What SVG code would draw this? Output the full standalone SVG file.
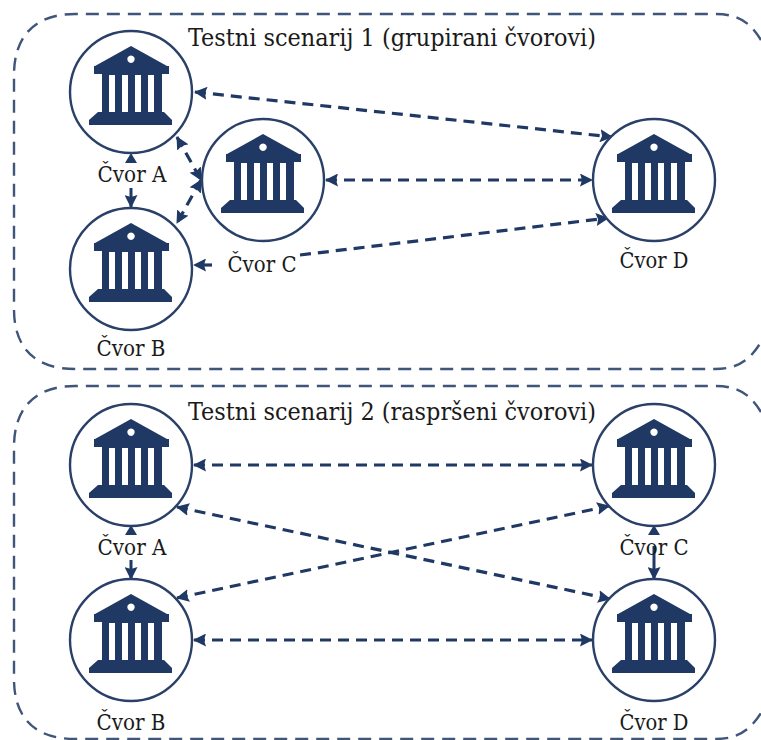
<svg xmlns="http://www.w3.org/2000/svg" xmlns:xlink="http://www.w3.org/1999/xlink" width="761" height="740" viewBox="0 0 761 740">
<style>
text{font-family:"DejaVu Serif Condensed","DejaVu Serif",serif;fill:#1a1a1a;text-anchor:middle}
.t{font-size:24px}.l{font-size:22px}
.f{fill:none;stroke:#3f5579;stroke-width:2.4;stroke-dasharray:13 8}
.c{fill:none;stroke:#1f3864;stroke-width:3.200;stroke-dasharray:11 7}
.s{fill:none;stroke:#1f3864;stroke-width:3}
.r{fill:#fff;stroke:#2a4068;stroke-width:2.400}
.i{fill:#1f3864}
</style>
<defs>
<marker id="a" viewBox="0 0 13 13" refX="12" refY="6.500" markerWidth="13" markerHeight="13" markerUnits="userSpaceOnUse" orient="auto-start-reverse"><path d="M0 0L13 6.500L0 13L2 6.500Z" fill="#1f3864"/></marker>
<g id="n">
<circle class="r" r="61"/>
<path class="i" fill-rule="evenodd" d="M0-46L36-26H38V-18H31V20H33L41 28V33H-42V28L-33 20H-29V-18H-37V-26H-36ZM0-36.500a3.700 3.700 0 1 0 .01 0ZM-22-17V20H-16V-17ZM-9-17V20H-3V-17ZM4-17V20H10V-17ZM17-17V20H23V-17Z"/>
</g>
</defs>
<g id="frames">
<path class="f" d="M761 40C750 22 738 14 715 14H75C35 14 14 36 14 75V309C14 348 35 369 75 369H715C738 369 750 360 761 342"/>
<path class="f" d="M761 412C750 394 738 386 715 386H75C35 386 14 408 14 447V679C14 718 35 739 75 739H715C738 739 750 730 761 713"/>
</g>
<g id="connectors">
<path class="c" marker-start="url(#a)" marker-end="url(#a)" d="M195 92L612 137"/>
<path class="c" marker-start="url(#a)" marker-end="url(#a)" d="M326 180L592 180"/>
<path class="c" d="M300 255L608 218" marker-end="url(#a)"/>
<path class="c" d="M212 265L194 265" marker-end="url(#a)"/>
<path class="c" marker-start="url(#a)" marker-end="url(#a)" d="M177 137L201 180"/>
<path class="c" marker-start="url(#a)" marker-end="url(#a)" d="M201 180L177 223"/>
<path class="s" d="M131 188V207" marker-end="url(#a)"/><path class="i" d="M125 163L131 153L137 163Z"/>
<path class="c" marker-start="url(#a)" marker-end="url(#a)" d="M194 465H592"/>
<path class="c" marker-start="url(#a)" marker-end="url(#a)" d="M194 640H592"/>
<path class="c" marker-start="url(#a)" marker-end="url(#a)" d="M177 507L610 599"/>
<path class="c" marker-start="url(#a)" marker-end="url(#a)" d="M177 598L609 506"/>
<path class="s" d="M131 560V579" marker-end="url(#a)"/><path class="i" d="M125 535L131 525L137 535Z"/>
<path class="s" d="M654 546V579" marker-end="url(#a)"/><path class="i" d="M648 535L654 525L660 535Z"/>
</g>
<g id="node-a1"><use href="#n" xlink:href="#n" x="131" y="92"/></g>
<g id="node-b1"><use href="#n" xlink:href="#n" x="131" y="269"/></g>
<g id="node-c1"><use href="#n" xlink:href="#n" x="263" y="180"/></g>
<g id="node-d1"><use href="#n" xlink:href="#n" x="654" y="180"/></g>
<g id="node-a2"><use href="#n" xlink:href="#n" x="131" y="465"/></g>
<g id="node-b2"><use href="#n" xlink:href="#n" x="131" y="640"/></g>
<g id="node-c2"><use href="#n" xlink:href="#n" x="654" y="465"/></g>
<g id="node-d2"><use href="#n" xlink:href="#n" x="654" y="640"/></g>
<g id="labels">
<text class="t" x="392" y="46" textLength="408" lengthAdjust="spacingAndGlyphs">Testni scenarij 1 (grupirani čvorovi)</text>
<text class="t" x="392" y="420" textLength="408" lengthAdjust="spacingAndGlyphs">Testni scenarij 2 (raspršeni čvorovi)</text>
<text class="l" x="132" y="182" textLength="69" lengthAdjust="spacingAndGlyphs">Čvor A</text>
<text class="l" x="131" y="356" textLength="69" lengthAdjust="spacingAndGlyphs">Čvor B</text>
<text class="l" x="262" y="272" textLength="69" lengthAdjust="spacingAndGlyphs">Čvor C</text>
<text class="l" x="654" y="268" textLength="69" lengthAdjust="spacingAndGlyphs">Čvor D</text>
<text class="l" x="132" y="555" textLength="69" lengthAdjust="spacingAndGlyphs">Čvor A</text>
<text class="l" x="131" y="730" textLength="69" lengthAdjust="spacingAndGlyphs">Čvor B</text>
<text class="l" x="654" y="555" textLength="69" lengthAdjust="spacingAndGlyphs">Čvor C</text>
<text class="l" x="654" y="730" textLength="69" lengthAdjust="spacingAndGlyphs">Čvor D</text>
</g>
</svg>
